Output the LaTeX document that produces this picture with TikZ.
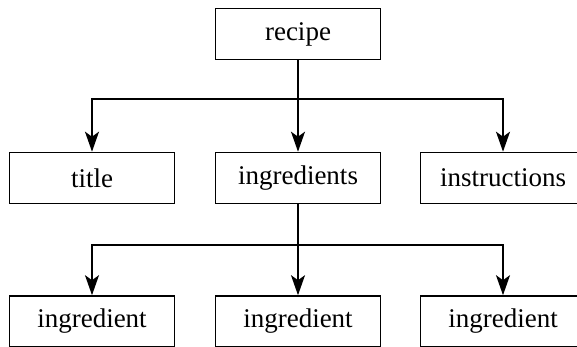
\documentclass[tikz,border=0pt]{standalone}
\usepackage{fontspec}
\setmainfont{Liberation Serif}
\usepackage{tikz}
\usetikzlibrary{arrows.meta, positioning}
\tikzstyle{box} = [rectangle, minimum width=82.5pt, minimum height=25.5pt, text centered, draw=black, line width=0.8pt, font=\fontsize{13.5}{16}\selectfont]
\tikzstyle{arrow} = [line width=0.8pt,->,>={Stealth[length=10pt,width=7pt,inset=2.5pt]}]

\begin{document}
\begin{tikzpicture}[node distance=72pt]

\useasboundingbox (-149pt,17pt) rectangle (139.5pt,-156.5pt);

\node (recipe) [box] {recipe};
\node (ingredients) [box, below of=recipe] {ingredients};
\node (title) [box, left of=ingredients, node distance=103pt] {title};
\node (instructions) [box, right of=ingredients, node distance=102.5pt] {instructions};
\node (item2) [box, below of=ingredients, yshift=0.25pt] {ingredient};
\node (item1) [box, left of=item2, node distance=103pt] {ingredient};
\node (item3) [box, right of=item2, node distance=102.5pt] {ingredient};

\coordinate [below=19.5pt of recipe.south] (fork1);
\coordinate [below=20.5pt of ingredients.south] (fork2);

\draw [arrow] (recipe) -- (ingredients);
\draw [arrow] (fork1) -| (title);
\draw [arrow] (fork1) -| (instructions);
\draw [arrow] (ingredients) -- (item2);
\draw [arrow] (fork2) -| (item1);
\draw [arrow] (fork2) -| (item3);

\end{tikzpicture}
\end{document}
